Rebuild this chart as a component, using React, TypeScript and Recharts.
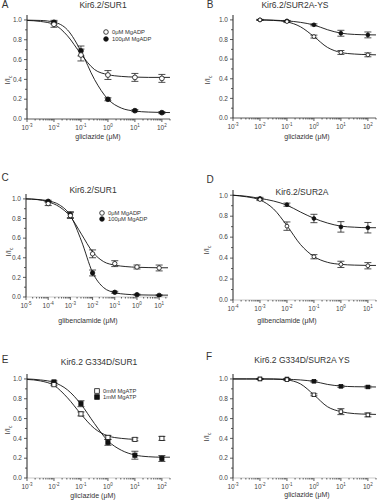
import React from 'react';
import { ComposedChart, Line, Scatter, ErrorBar, XAxis, YAxis } from 'recharts';

const FONT = '"Liberation Sans", Arial, Helvetica, sans-serif';

// drug concentrations (μM)
const gliclazideConc = [0.01, 0.1, 1, 10, 100];
const glibenConcC = [1e-4, 1e-3, 1e-2, 1e-1, 1, 10];
const glibenConcD = [1e-3, 1e-2, 1e-1, 1, 10];

const yTicks = [0, 0.1, 0.2, 0.3, 0.4, 0.5, 0.6, 0.7, 0.8, 0.9, 1.0];

// A  Kir6.2/SUR1, gliclazide
const aOpen = [0.956, 0.646, 0.444, 0.42, 0.41];
const aOpenErr = [0.03, 0.06, 0.045, 0.04, 0.04];
const aFilled = [0.976, 0.687, 0.199, 0.084, 0.064];
const aFilledErr = [0.02, 0.05, 0.015, 0.01, 0.01];
const aFitExp = [-3, -2.5, -2, -1.5, -1, -0.5, 0, 0.5, 1, 1.5, 2, 2.3];
const aFitOpen = [0.995, 0.985, 0.955, 0.84, 0.655, 0.5, 0.448, 0.43, 0.423, 0.42, 0.42, 0.42];
const aFitFilled = [0.998, 0.995, 0.978, 0.9, 0.685, 0.4, 0.2, 0.11, 0.08, 0.07, 0.066, 0.065];

// B  Kir6.2/SUR2A-YS, gliclazide
const bOpen = [1.0, 0.983, 0.83, 0.668, 0.644];
const bOpenErr = [0.005, 0.01, 0.015, 0.02, 0.02];
const bFilled = [1.0, 0.99, 0.95, 0.864, 0.847];
const bFilledErr = [0.005, 0.005, 0.01, 0.03, 0.03];
const bFitExp = [-2, -1.5, -1, -0.5, 0, 0.5, 1, 1.5, 2, 2.3];
const bFitOpen = [1.0, 0.995, 0.98, 0.93, 0.83, 0.72, 0.668, 0.652, 0.646, 0.644];
const bFitFilled = [1.0, 0.997, 0.99, 0.975, 0.948, 0.9, 0.865, 0.852, 0.848, 0.847];

// C  Kir6.2/SUR1, glibenclamide
const cOpen = [0.952, 0.83, 0.44, 0.34, 0.306, 0.296];
const cOpenErr = [0.02, 0.03, 0.04, 0.03, 0.02, 0.03];
const cFilled = [0.976, 0.84, 0.245, 0.048, 0.024, 0.017];
const cFilledErr = [0.01, 0.03, 0.03, 0.01, 0.005, 0.005];
const cFitExp = [-5, -4.5, -4, -3.5, -3, -2.5, -2, -1.5, -1, -0.5, 0, 0.5, 1, 1.4];
const cFitOpen = [1.0, 0.993, 0.97, 0.92, 0.82, 0.64, 0.46, 0.36, 0.325, 0.31, 0.303, 0.3, 0.298, 0.298];
const cFitFilled = [1.0, 0.995, 0.98, 0.94, 0.83, 0.57, 0.25, 0.095, 0.045, 0.028, 0.022, 0.02, 0.019, 0.019];

// D  Kir6.2/SUR2A, glibenclamide
const dOpen = [0.959, 0.705, 0.413, 0.34, 0.327];
const dOpenErr = [0.01, 0.04, 0.02, 0.03, 0.03];
const dFilled = [0.97, 0.91, 0.778, 0.698, 0.69];
const dFilledErr = [0.01, 0.015, 0.04, 0.05, 0.05];
const dFitExp = [-4, -3.5, -3, -2.5, -2, -1.5, -1, -0.5, 0, 0.5, 1, 1.3];
const dFitOpen = [1.0, 0.985, 0.955, 0.87, 0.71, 0.53, 0.415, 0.36, 0.34, 0.333, 0.33, 0.33];
const dFitFilled = [1.0, 0.99, 0.97, 0.945, 0.905, 0.84, 0.78, 0.735, 0.705, 0.695, 0.69, 0.69];

// E  Kir6.2 G334D/SUR1, gliclazide
const eOpen = [0.942, 0.647, 0.41, 0.39, 0.4];
const eOpenErr = [0.01, 0.02, 0.02, 0.015, 0.02];
const eFilled = [0.97, 0.75, 0.36, 0.23, 0.197];
const eFilledErr = [0.01, 0.03, 0.03, 0.04, 0.03];
const eFitOpenExp = [-3, -2.5, -2, -1.5, -1, -0.5, 0, 0.5, 1];
const eFitOpen = [0.995, 0.98, 0.935, 0.81, 0.645, 0.5, 0.425, 0.4, 0.39];
const eFitFilledExp = [-3, -2.5, -2, -1.5, -1, -0.5, 0, 0.5, 1, 1.5, 2, 2.3];
const eFitFilled = [1.0, 0.99, 0.965, 0.89, 0.745, 0.55, 0.375, 0.28, 0.232, 0.215, 0.21, 0.21];

// F  Kir6.2 G334D/SUR2A YS, gliclazide
const fOpen = [1.0, 0.993, 0.84, 0.67, 0.637];
const fOpenErr = [0.005, 0.008, 0.01, 0.03, 0.02];
const fFilled = [1.0, 1.0, 0.976, 0.925, 0.919];
const fFilledErr = [0.005, 0.005, 0.008, 0.01, 0.01];
const fFitExp = [-3, -2.5, -2, -1.5, -1, -0.5, 0, 0.5, 1, 1.5, 2, 2.3];
const fFitOpen = [1.0, 1.0, 1.0, 0.998, 0.99, 0.95, 0.84, 0.72, 0.67, 0.65, 0.644, 0.642];
const fFitFilled = [1.0, 1.0, 1.0, 1.0, 0.997, 0.99, 0.975, 0.945, 0.928, 0.922, 0.92, 0.919];

const pts = (xs: number[], ys: number[], es: number[]) => xs.map((x, i) => ({ x, y: ys[i], e: es[i] }));
const fit = (exps: number[], ys: number[]) => exps.map((p, i) => ({ x: Math.pow(10, p), y: ys[i] }));

const logTicks = (lo: number, hi: number) => {
  const out: number[] = [];
  for (let p = Math.floor(Math.log10(lo)); p <= Math.ceil(Math.log10(hi)); p++) {
    for (let k = 1; k <= 9; k++) {
      const v = k * Math.pow(10, p);
      if (v >= lo * 0.999 && v <= hi * 1.001) out.push(v);
    }
  }
  return out;
};

const XTick = (props: any) => {
  const { x, y, payload } = props;
  const lg = Math.log10(payload.value);
  const major = Math.abs(lg - Math.round(lg)) < 1e-6;
  return (
    <g>
      <line x1={x} x2={x} y1={y} y2={y + (major ? 3 : 1.5)} stroke="#333" strokeWidth={0.8} />
      {major && (
        <text x={x} y={y + 11} textAnchor="middle" fontSize={6.5} fill="#444" fontFamily={FONT}>
          10<tspan fontSize={4.5} dy={-3}>{Math.round(lg)}</tspan>
        </text>
      )}
    </g>
  );
};

const YTick = (props: any) => {
  const { x, y, payload } = props;
  const v = payload.value as number;
  const major = Math.round(v * 10) % 2 === 0;
  return (
    <g>
      <line x1={x} x2={x - (major ? 3 : 2)} y1={y} y2={y} stroke="#333" strokeWidth={0.8} />
      {major && (
        <text x={x - 5} y={y + 2.3} textAnchor="end" fontSize={6.5} fill="#444" fontFamily={FONT}>
          {v.toFixed(1)}
        </text>
      )}
    </g>
  );
};

const marker = (kind: 'circle' | 'square', filled: boolean, r: number) => (p: any) => {
  const fill = filled ? '#111' : '#fff';
  if (kind === 'square')
    return <rect x={p.cx - r} y={p.cy - r} width={2 * r} height={2 * r} fill={fill} stroke="#111" strokeWidth={0.8} />;
  return <circle cx={p.cx} cy={p.cy} r={r} fill={fill} stroke="#111" strokeWidth={0.8} />;
};

interface PanelProps {
  left: number; top: number; width: number; height: number;
  plotLeft: number; plotTop: number; plotRight: number; plotBottom: number;
  domain: [number, number];
  open: any[]; filled: any[]; fitOpen: any[]; fitFilled: any[];
  kind: 'circle' | 'square'; r: number; axisColor: string;
}

// plot box given in chart-local pixels; axis sizes take the room outside it
const Panel = (p: PanelProps) => (
  <div style={{ position: 'absolute', left: p.left, top: p.top }}>
    <ComposedChart width={p.width} height={p.height}
      margin={{ top: p.plotTop, right: p.width - p.plotRight, bottom: 0, left: 0 }}>
      <XAxis
        type="number" dataKey="x" scale="log" domain={p.domain} allowDataOverflow
        ticks={logTicks(p.domain[0], p.domain[1])} tick={<XTick />} tickLine={false}
        tickSize={0} tickMargin={0} height={p.height - p.plotBottom} interval={0}
        axisLine={{ stroke: p.axisColor, strokeWidth: 0.8 }}
      />
      <YAxis
        type="number" dataKey="y" domain={[0, 1.05]} allowDataOverflow
        ticks={yTicks} tick={<YTick />} tickLine={false}
        tickSize={0} tickMargin={0} width={p.plotLeft} interval={0}
        axisLine={{ stroke: '#222', strokeWidth: 1 }}
      />
      <Line data={p.fitOpen} dataKey="y" type="monotone" dot={false} stroke="#111" strokeWidth={0.9} isAnimationActive={false} />
      <Line data={p.fitFilled} dataKey="y" type="monotone" dot={false} stroke="#111" strokeWidth={0.9} isAnimationActive={false} />
      <Scatter data={p.filled} dataKey="y" shape={marker(p.kind, true, p.r)} isAnimationActive={false}>
        <ErrorBar dataKey="e" direction="y" width={3.5} stroke="#222" strokeWidth={0.8} />
      </Scatter>
      <Scatter data={p.open} dataKey="y" shape={marker(p.kind, false, p.r)} isAnimationActive={false}>
        <ErrorBar dataKey="e" direction="y" width={3.5} stroke="#222" strokeWidth={0.8} />
      </Scatter>
    </ComposedChart>
  </div>
);

const T = ({ x, y, size, children, rotate }: any) => (
  <div
    style={{
      position: 'absolute', left: x, top: y, fontSize: size, fontFamily: FONT, color: '#333',
      whiteSpace: 'nowrap', lineHeight: 1,
      transform: `translate(-50%, -50%)${rotate ? ' rotate(-90deg)' : ''}`,
    }}
  >
    {children}
  </div>
);

const L = ({ x, y, children }: any) => (
  <div style={{ position: 'absolute', left: x, top: y - 3.5, fontSize: 5.8, fontFamily: FONT, color: '#333', whiteSpace: 'nowrap', lineHeight: '7px' }}>
    {children}
  </div>
);

const LegendMark = ({ x, y, kind, filled }: any) => (
  <svg style={{ position: 'absolute', left: x - 3, top: y - 3 }} width={6} height={6}>
    {kind === 'square'
      ? <rect x={0.7} y={0.7} width={4.6} height={4.6} fill={filled ? '#111' : '#fff'} stroke="#111" strokeWidth={0.8} />
      : <circle cx={3} cy={3} r={2.3} fill={filled ? '#111' : '#fff'} stroke="#111" strokeWidth={0.8} />}
  </svg>
);

const YLabel = ({ x, y }: any) => (
  <T x={x} y={y} size={7.5} rotate>I/I<span style={{ fontSize: 5, verticalAlign: -2 }}>c</span></T>
);

export default function App() {
  return (
    <div style={{ position: 'absolute', left: 0, top: 0, width: 377, height: 500, background: '#fff', overflow: 'hidden' }}>
      <Panel left={0} top={0} width={185} height={145} plotLeft={27} plotTop={15} plotRight={170} plotBottom={119}
        domain={[0.001, 200]} open={pts(gliclazideConc, aOpen, aOpenErr)} filled={pts(gliclazideConc, aFilled, aFilledErr)}
        fitOpen={fit(aFitExp, aFitOpen)} fitFilled={fit(aFitExp, aFitFilled)} kind="circle" r={2.4} axisColor="#333" />
      <Panel left={185} top={0} width={192} height={145} plotLeft={48} plotTop={15} plotRight={191} plotBottom={118}
        domain={[0.001, 200]} open={pts(gliclazideConc, bOpen, bOpenErr)} filled={pts(gliclazideConc, bFilled, bFilledErr)}
        fitOpen={fit(bFitExp, bFitOpen)} fitFilled={fit(bFitExp, bFitFilled)} kind="circle" r={1.9} axisColor="#333" />
      <Panel left={0} top={165} width={185} height={165} plotLeft={26} plotTop={29} plotRight={168} plotBottom={132}
        domain={[1e-5, 25]} open={pts(glibenConcC, cOpen, cOpenErr)} filled={pts(glibenConcC, cFilled, cFilledErr)}
        fitOpen={fit(cFitExp, cFitOpen)} fitFilled={fit(cFitExp, cFitFilled)} kind="circle" r={2.2} axisColor="#bbb" />
      <Panel left={185} top={165} width={192} height={165} plotLeft={48} plotTop={25} plotRight={191} plotBottom={135}
        domain={[1e-4, 20]} open={pts(glibenConcD, dOpen, dOpenErr)} filled={pts(glibenConcD, dFilled, dFilledErr)}
        fitOpen={fit(dFitExp, dFitOpen)} fitFilled={fit(dFitExp, dFitFilled)} kind="circle" r={1.9} axisColor="#bbb" />
      <Panel left={0} top={330} width={185} height={170} plotLeft={27} plotTop={44} plotRight={170} plotBottom={148}
        domain={[0.001, 200]} open={pts(gliclazideConc, eOpen, eOpenErr)} filled={pts(gliclazideConc, eFilled, eFilledErr)}
        fitOpen={fit(eFitOpenExp, eFitOpen)} fitFilled={fit(eFitFilledExp, eFitFilled)} kind="square" r={2.1} axisColor="#bbb" />
      <Panel left={185} top={330} width={192} height={170} plotLeft={48} plotTop={44} plotRight={191} plotBottom={148}
        domain={[0.001, 200]} open={pts(gliclazideConc, fOpen, fOpenErr)} filled={pts(gliclazideConc, fFilled, fFilledErr)}
        fitOpen={fit(fFitExp, fFitOpen)} fitFilled={fit(fFitExp, fFitFilled)} kind="square" r={1.8} axisColor="#bbb" />

      {/* panel letters */}
      <T x={5} y={5} size={10}>A</T>
      <T x={210} y={5} size={10}>B</T>
      <T x={5} y={178} size={10}>C</T>
      <T x={210} y={180} size={10}>D</T>
      <T x={5} y={360} size={10}>E</T>
      <T x={209} y={357} size={10}>F</T>

      {/* titles */}
      <T x={103} y={5} size={8.5}>Kir6.2/SUR1</T>
      <T x={295} y={5} size={8.5}>Kir6.2/SUR2A-YS</T>
      <T x={93} y={190} size={8.5}>Kir6.2/SUR1</T>
      <T x={302} y={192} size={8.5}>Kir6.2/SUR2A</T>
      <T x={99} y={362} size={8.5}>Kir6.2 G334D/SUR1</T>
      <T x={302} y={360} size={8.5}>Kir6.2 G334D/SUR2A YS</T>

      {/* x labels */}
      <T x={98} y={136} size={7}>gliclazide (μM)</T>
      <T x={307} y={136} size={7}>gliclazide (μM)</T>
      <T x={88} y={320} size={7}>glibenclamide (μM)</T>
      <T x={287} y={320} size={7}>glibenclamide (μM)</T>
      <T x={93} y={495} size={7}>gliclazide (μM)</T>
      <T x={307} y={494} size={7}>gliclazide (μM)</T>

      {/* y labels */}
      <YLabel x={8} y={80} />
      <YLabel x={208} y={80} />
      <YLabel x={9} y={252} />
      <YLabel x={207} y={250} />
      <YLabel x={8} y={430} />
      <YLabel x={207} y={437} />

      {/* legends */}
      <LegendMark x={106} y={32} kind="circle" filled={false} />
      <L x={112} y={32}>0μM MgADP</L>
      <LegendMark x={106} y={39} kind="circle" filled />
      <L x={112} y={39}>100μM MgADP</L>

      <LegendMark x={102} y={213} kind="circle" filled={false} />
      <L x={108} y={213}>0μM MgADP</L>
      <LegendMark x={102} y={219} kind="circle" filled />
      <L x={108} y={219}>100μM MgADP</L>

      <LegendMark x={97} y={391} kind="square" filled={false} />
      <L x={103} y={391}>0mM MgATP</L>
      <LegendMark x={97} y={397} kind="square" filled />
      <L x={103} y={397}>1mM MgATP</L>
    </div>
  );
}
